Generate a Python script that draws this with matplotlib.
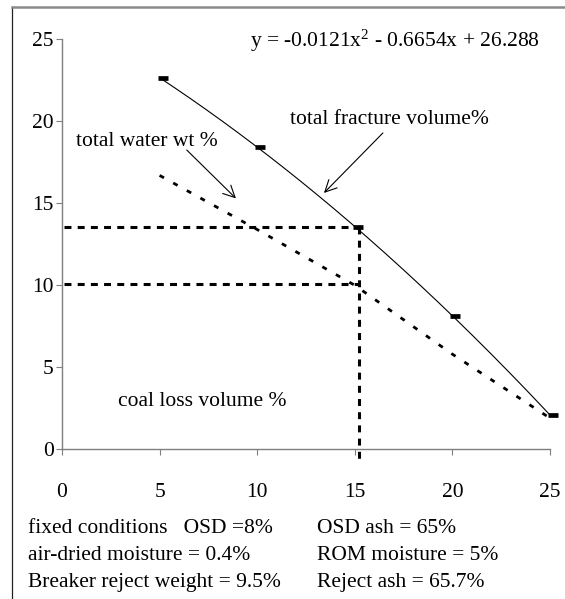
import matplotlib
matplotlib.use("Agg")
import matplotlib.pyplot as plt
import numpy as np
from matplotlib.lines import Line2D
from matplotlib.transforms import offset_copy

# ---- data -------------------------------------------------------------
breaker_pct = [5, 10, 15, 20, 25]                 # x values
fracture_vol = [22.66, 18.42, 13.58, 8.14, 2.09]  # total fracture volume %
water_wt = [16.7, 13.4, 10.0, 5.8, 1.9]           # total water wt %
trend_coef = [-0.0121, -0.6654, 26.288]           # quadratic trendline (a, b, c)
ref_x = 15.2                                      # vertical reading line
ref_y = [13.58, 10.1]                             # horizontal reading lines
x_ticks = [0, 5, 10, 15, 20, 25]
y_ticks = [0, 5, 10, 15, 20, 25]
conditions = [
    ("fixed conditions   OSD =8%", "OSD ash = 65%"),
    ("air-dried moisture = 0.4%", "ROM moisture = 5%"),
    ("Breaker reject weight = 9.5%", "Reject ash = 65.7%"),
]

plt.rcParams["font.family"] = ["Liberation Serif", "DejaVu Serif"]
plt.rcParams["mathtext.fontset"] = "custom"
plt.rcParams["mathtext.rm"] = "Liberation Serif"
plt.rcParams["mathtext.it"] = "Liberation Serif"
plt.rcParams["lines.scale_dashes"] = False

W, H = 565, 599
fig = plt.figure(figsize=(W / 100, H / 100), dpi=100)
fig.patch.set_facecolor("white")

# axes placed in pixel terms
x0, x1 = 62, 550
y0, y1 = 449.3, 39.3
ax = fig.add_axes([x0 / W, 1 - y0 / H, (x1 - x0) / W, (y0 - y1) / H])
ax.set_xlim(0, 25)
ax.set_ylim(0, 25)
ax.set_facecolor("none")

fs = 15.5
axis_grey = "#7f7f7f"
for side in ("top", "right"):
    ax.spines[side].set_visible(False)
for side in ("left", "bottom"):
    ax.spines[side].set_color(axis_grey)
    ax.spines[side].set_linewidth(1.0)

ax.set_xticks(x_ticks)
ax.set_yticks(y_ticks)
ax.set_xticklabels([str(t) for t in x_ticks])
ax.set_yticklabels([str(t) for t in y_ticks])
ax.tick_params(axis="both", direction="out", length=4.5, width=0.8,
               color=axis_grey, labelsize=fs, labelcolor="black")
ax.tick_params(axis="x", pad=20)
ax.tick_params(axis="y", pad=1.5)

# fitted fracture volume curve
a, b, c = trend_coef
xs = np.linspace(breaker_pct[0], breaker_pct[-1], 200)
ax.plot(xs, a * xs ** 2 + b * xs + c, color="black", lw=0.8, zorder=3)

# data markers (small black bars, slightly right of the point)
mk_tr = offset_copy(ax.transData, fig=fig, x=3, y=0, units="dots")
ax.plot(breaker_pct, fracture_vol, linestyle="none", marker="_",
        markersize=7.5, markeredgewidth=3.4, color="black",
        transform=mk_tr, zorder=4, clip_on=False)

# total water line
ax.plot(breaker_pct, water_wt, color="black", lw=2.0,
        dashes=(3.6, 7.6), zorder=3, clip_on=False)

# reading lines
ref_dash = (5.0, 4.5)
for yv in ref_y:
    ax.plot([0.1, ref_x], [yv, yv], color="black", lw=2.2,
            dashes=ref_dash, zorder=2)
ax.plot([ref_x, ref_x], [ref_y[0], -0.6], color="black", lw=2.2,
        dashes=ref_dash, zorder=2, clip_on=False)

# labels
ax.text(24.5, 24.9, r"y = -0.0121x$^{2}$ - 0.6654x + 26.288",
        ha="right", va="center", fontsize=fs)
ax.text(16.75, 20.14, "total fracture volume%", ha="center", va="center",
        fontsize=fs)
ax.text(4.35, 18.74, "total water wt %", ha="center", va="center",
        fontsize=fs)
ax.text(7.17, 2.91, "coal loss volume %", ha="center", va="center",
        fontsize=fs)

arrow_kw = dict(arrowstyle="->,head_length=0.6,head_width=0.3",
                color="black", lw=0.8, shrinkA=0, shrinkB=0,
                mutation_scale=14)
ax.annotate("", xy=(8.91, 15.3), xytext=(6.39, 18.25), arrowprops=arrow_kw)
ax.annotate("", xy=(13.42, 15.63), xytext=(16.44, 19.29), arrowprops=arrow_kw)

# fixed-condition notes below the axis
row_y = [528.6, 555.7, 582.7]
for (left, right), yp in zip(conditions, row_y):
    fig.text(28 / W, 1 - yp / H, left, ha="left", va="center", fontsize=fs)
    fig.text(317 / W, 1 - yp / H, right, ha="left", va="center", fontsize=fs)

# outer frame (left and top edges)
fig.add_artist(Line2D([12 / W, 12 / W], [0, 1 - 7 / H], color="#222222",
                      lw=0.9, transform=fig.transFigure))
fig.add_artist(Line2D([12 / W, 1], [1 - 7 / H, 1 - 7 / H], color="#8a8a8a",
                      lw=1.8, transform=fig.transFigure))

fig.savefig("out.png", dpi=100, facecolor="white")
